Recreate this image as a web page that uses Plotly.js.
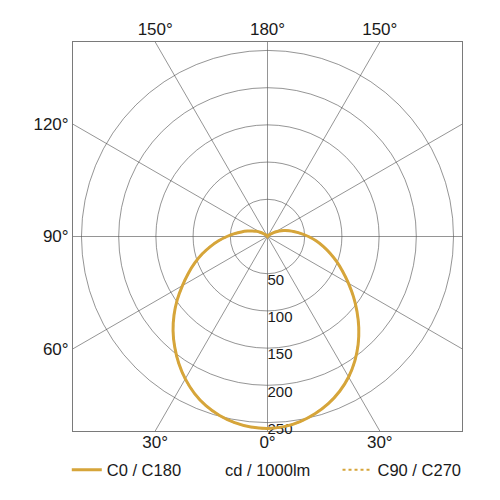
<!DOCTYPE html>
<html>
<head>
<meta charset="utf-8">
<script src="https://cdn.plot.ly/plotly-3.0.1.min.js"></script>
<style>
  html, body { margin: 0; padding: 0; background: #fff; }
  #graph { width: 500px; height: 500px; }
</style>
</head>
<body>
<div id="graph"></div>
<script>
// gamma angles (deg from nadir) and intensities in cd/1000lm
var gamma = [0,5,10,15,20,25,30,35,40,45,50,55,60,65,70,75,80,85,90,
             95,100,105,110,115,120,125,130,135,140,145,150,155,160,165,170,175,180]
var c0   = [258,256.5,252.5,246.5,239,229.5,218,204.5,189.5,173.5,157,141,125.5,111.5,99,87,76,65.5,55,
            45.5,37,30,23.5,17.5,12,7.5,4,1.5,0,0,0,0,0,0,0,0,0]
var c180 = [258,257,254,249,242,232.5,221,208,194,179.5,164,148,132,117.5,104,91,78,66,54.5,
            44.5,35.5,28,22,16.5,11.5,7.5,4,1.5,0,0,0,0,0,0,0,0,0]
// C90 / C270 lies right under the C0 / C180 curve in the picture
var c90  = c0
var c270 = c180

var rTicks = [50, 100, 150, 200, 250]
var spokeAngles = [0,30,60,90,120,150,180,210,240,270,300,330]
var bottomLabels = ['30°', '0°', '30°']
var topLabels = ['150°', '180°', '150°']
var leftLabels = ['60°', '90°', '120°']

var gold = '#d6a53a'
var gridCol = '#4d4d4d'
var font = 'Liberation Sans, Arial, Helvetica, sans-serif'

// frame half-size in cd (frame is a bit bigger than the 250 ring)
var R = 261.4
var a30 = R * Math.tan(Math.PI / 6)

function closed(right, left) {
    var th = [], rr = []
    for (var i = 0; i < gamma.length; i++) { th.push(gamma[i]); rr.push(right[i]) }
    for (var j = gamma.length - 1; j >= 0; j--) { th.push(-gamma[j]); rr.push(left[j]) }
    return [th, rr]
}

var p1 = closed(c0, c180)
var p2 = closed(c90, c270)

var labels = {
    type: 'scatterpolar',
    theta: rTicks.map(function () { return 0 }),
    r: rTicks,
    mode: 'text',
    text: rTicks.map(String),
    textposition: 'bottom right',
    textfont: {family: font, size: 15, color: '#1a1a1a'},
    showlegend: false,
    hoverinfo: 'skip'
}

var dotted = {
    type: 'scatterpolar',
    theta: p2[0], r: p2[1],
    mode: 'lines',
    name: 'C90 / C270',
    line: {color: gold, width: 2, dash: 'dot', shape: 'spline', smoothing: 1},
    legend: 'legend2',
    hoverinfo: 'skip'
}

var solid = {
    type: 'scatterpolar',
    theta: p1[0], r: p1[1],
    mode: 'lines',
    name: 'C0 / C180',
    line: {color: gold, width: 3, shape: 'spline', smoothing: 1},
    legend: 'legend',
    hoverinfo: 'skip'
}

// spokes every 30 deg, run out to the square frame (clipped by the axes)
var shapes = spokeAngles.map(function (a) {
    var t = a * Math.PI / 180
    return {
        type: 'line', xref: 'x', yref: 'y', layer: 'below',
        x0: 0, y0: 0, x1: 600 * Math.sin(t), y1: -600 * Math.cos(t),
        line: {color: gridCol, width: 0.6}
    }
})

var axBase = {
    range: [-R, R],
    showgrid: false, zeroline: false,
    ticks: '', fixedrange: true,
    tickfont: {family: font, size: 17, color: '#1a1a1a'}
}

var legFont = {family: font, size: 16.5, color: '#1a1a1a'}

var layout = {
    width: 500, height: 500,
    margin: {l: 73, r: 38, t: 42, b: 69},
    paper_bgcolor: '#fff',
    plot_bgcolor: 'rgba(0,0,0,0)',
    font: {family: font, color: '#1a1a1a'},
    shapes: shapes,
    xaxis: Object.assign({}, axBase, {
        tickvals: [-a30, 0, a30], ticktext: bottomLabels, ticklabelstandoff: -4,
        showline: true, mirror: true, linecolor: '#7a7a7a', linewidth: 1
    }),
    xaxis2: Object.assign({}, axBase, {
        overlaying: 'x', side: 'top', matches: 'x', ticklabelstandoff: 3,
        tickvals: [-a30, 0, a30], ticktext: topLabels, showline: false
    }),
    yaxis: Object.assign({}, axBase, {
        tickvals: [-a30, 0, a30], ticktext: leftLabels, ticklabelstandoff: 0,
        showline: true, mirror: true, linecolor: '#7a7a7a', linewidth: 1
    }),
    polar: {
        domain: {x: [0, 1], y: [0, 1]},
        bgcolor: 'rgba(0,0,0,0)',
        angularaxis: {
            rotation: -90, direction: 'counterclockwise',
            showgrid: false, showline: false, showticklabels: false, ticks: ''
        },
        radialaxis: {
            range: [0, R], tickvals: rTicks,
            showgrid: true, gridcolor: gridCol, gridwidth: 0.6,
            showline: false, showticklabels: false, ticks: ''
        }
    },
    legend: {
        orientation: 'h', x: -0.016, xanchor: 'left', y: -0.1, yanchor: 'middle',
        font: legFont, bgcolor: 'rgba(0,0,0,0)'
    },
    legend2: {
        orientation: 'h', x: 0.68, xanchor: 'left', y: -0.1, yanchor: 'middle',
        font: legFont, bgcolor: 'rgba(0,0,0,0)'
    },
    annotations: [{
        xref: 'paper', yref: 'paper', x: 0.5, y: -0.1, yanchor: 'middle',
        text: 'cd / 1000lm', showarrow: false,
        font: legFont
    }]
}

// invisible trace so the top x axis gets drawn
var topAxis = {type: 'scatter', x: [0], y: [0], xaxis: 'x2', yaxis: 'y',
               mode: 'markers', marker: {opacity: 0}, showlegend: false, hoverinfo: 'skip'}

Plotly.newPlot('graph', [topAxis, labels, dotted, solid], layout,
               {displayModeBar: false, staticPlot: true})
</script>
</body>
</html>
